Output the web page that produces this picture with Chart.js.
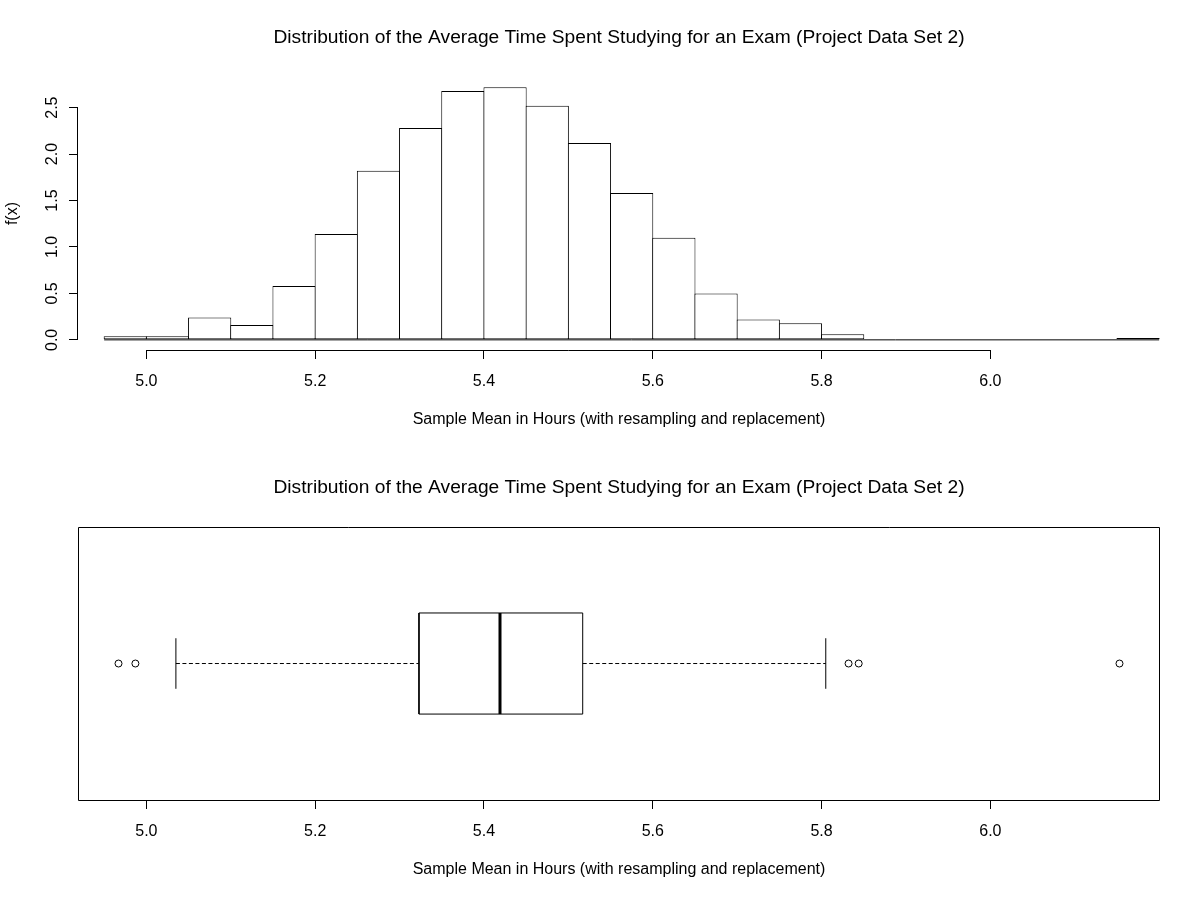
<!DOCTYPE html>
<html>
<head>
<meta charset="utf-8">
<script src="https://cdn.jsdelivr.net/npm/chart.js@4/dist/chart.umd.min.js"></script>
<style>
  html, body { margin: 0; padding: 0; background: #fff; }
  canvas { display: block; }
</style>
</head>
<body>
<canvas id="histChart" width="1198" height="450"></canvas>
<canvas id="boxChart" width="1198" height="450"></canvas>
<script>
// ═══════════════════════════════════════════════════════
//  Sample mean distribution — histogram + boxplot (R look)
// ═══════════════════════════════════════════════════════

// ─── Data ─────────────────────────────────────────────

const TITLE   = 'Distribution of the Average Time Spent Studying for an Exam (Project Data Set 2)';
const X_LABEL = 'Sample Mean in Hours (with resampling and replacement)';
const Y_LABEL = 'f(x)';

// histogram breaks (bin width 0.05) and density per bin
const BREAKS  = [4.95, 5.00, 5.05, 5.10, 5.15, 5.20, 5.25, 5.30, 5.35, 5.40, 5.45, 5.50, 5.55,
                 5.60, 5.65, 5.70, 5.75, 5.80, 5.85, 5.90, 5.95, 6.00, 6.05, 6.10, 6.15, 6.20];
const DENSITY = [0.04, 0.04, 0.24, 0.16, 0.58, 1.14, 1.82, 2.28, 2.68, 2.72, 2.52, 2.12,
                 1.58, 1.10, 0.50, 0.22, 0.18, 0.06, 0, 0, 0, 0, 0, 0, 0.02];

// boxplot five-number summary and outliers
const WHISKER_LO = 5.035;
const Q1         = 5.323;
const MEDIAN     = 5.419;
const Q3         = 5.517;
const WHISKER_HI = 5.805;
const OUTLIERS   = [4.967, 4.987, 5.832, 5.844, 6.153];

// axes
const X_TICKS  = [5.0, 5.2, 5.4, 5.6, 5.8, 6.0];
const Y_TICKS  = [0.0, 0.5, 1.0, 1.5, 2.0, 2.5];
const X_RANGE  = [4.919, 6.201];
const Y_RANGE  = [-0.109, 2.829];
const BOX_YRANGE = [0.46, 1.54];

// ─── Defaults ─────────────────────────────────────────

const FONT = "'Liberation Sans', Arial, Helvetica, sans-serif";
Chart.defaults.font.family = FONT;
Chart.defaults.color = '#000';
Chart.defaults.animation = false;

// ─── R-style axis lines / frame ───────────────────────

const rAxes = {
  id: 'rAxes',
  afterDraw(chart, args, opts) {
    const { ctx, chartArea: a, scales } = chart;
    ctx.save();
    ctx.strokeStyle = '#000';
    ctx.lineWidth = 1;
    ctx.beginPath();
    const yb = Math.round(a.bottom) + 0.5;
    ctx.moveTo(scales.x.getPixelForValue(X_TICKS[0]), yb);
    ctx.lineTo(scales.x.getPixelForValue(X_TICKS[X_TICKS.length - 1]), yb);
    if (opts.yAxis) {
      const xl = Math.round(a.left) - 0.5;
      ctx.moveTo(xl, scales.y.getPixelForValue(Y_TICKS[0]));
      ctx.lineTo(xl, scales.y.getPixelForValue(Y_TICKS[Y_TICKS.length - 1]));
    }
    if (opts.frame) {
      ctx.rect(Math.round(a.left) + 0.5, Math.round(a.top) + 0.5,
               Math.round(a.width) - 1, Math.round(a.height));
    }
    ctx.stroke();
    ctx.restore();
  }
};

// ─── Shared pieces ────────────────────────────────────

const titleOpts = {
  display: true,
  text: TITLE,
  fullSize: false,
  font: { size: 19.2, weight: 'normal' },
  padding: { top: 26.5, bottom: 27.5 },
};

function xScale() {
  return {
    type: 'linear',
    offset: false,
    min: X_RANGE[0],
    max: X_RANGE[1],
    afterBuildTicks: s => { s.ticks = X_TICKS.map(v => ({ value: v })); },
    afterFit: s => { s.height = 100; },
    grid: { offset: false, drawOnChartArea: false, drawTicks: true, tickLength: 9, color: '#000', lineWidth: 1 },
    border: { display: false },
    ticks: { font: { size: 16 }, padding: 13.4, maxRotation: 0, callback: v => v.toFixed(1) },
    title: { display: true, text: X_LABEL, font: { size: 16 }, padding: { top: 0, bottom: 20.4 } },
  };
}

// ─── Histogram ────────────────────────────────────────

const binData = DENSITY.map((d, i) => ({ x: (BREAKS[i] + BREAKS[i + 1]) / 2, y: d }));

new Chart(document.getElementById('histChart'), {
  type: 'bar',
  data: {
    datasets: [
      {
        type: 'bar',
        data: binData,
        backgroundColor: '#fff',
        borderColor: '#000',
        borderWidth: 1,
        borderSkipped: false,
        inflateAmount: 0,
        barPercentage: 1.024,
        categoryPercentage: 1,
      },
      {
        type: 'line',
        data: [{ x: BREAKS[0], y: 0 }, { x: BREAKS[BREAKS.length - 1], y: 0 }],
        borderColor: '#000',
        borderWidth: 1,
        pointRadius: 0,
        tension: 0,
      },
    ],
  },
  options: {
    responsive: false,
    events: [],
    layout: { padding: { left: 0, right: 38, top: 0, bottom: 0 } },
    scales: {
      x: xScale(),
      y: {
        type: 'linear',
        min: Y_RANGE[0],
        max: Y_RANGE[1],
        afterBuildTicks: s => { s.ticks = Y_TICKS.map(v => ({ value: v })); },
        afterFit: s => { s.width = 78; },
        grid: { drawOnChartArea: false, drawTicks: true, tickLength: 9, color: '#000', lineWidth: 1 },
        border: { display: false },
        ticks: { font: { size: 16 }, padding: 5, minRotation: 90, maxRotation: 90,
                 crossAlign: 'center', callback: v => v.toFixed(1) },
        title: { display: true, text: Y_LABEL, font: { size: 16 }, padding: { top: 3.4, bottom: 0 } },
      },
    },
    plugins: {
      legend: { display: false },
      tooltip: { enabled: false },
      title: titleOpts,
      rAxes: { yAxis: true, frame: false },
    },
  },
  plugins: [rAxes],
});

// ─── Boxplot ──────────────────────────────────────────

const BOX_MID = 1, BOX_HALF = 0.2, CAP_HALF = 0.1;
const seg = (x0, y0, x1, y1) => [{ x: x0, y: y0 }, { x: x1, y: y1 }];
const lineDs = (data, extra) => Object.assign({
  type: 'line', data, borderColor: '#000', borderWidth: 1, pointRadius: 0,
  tension: 0, fill: false, borderCapStyle: 'butt',
}, extra || {});

new Chart(document.getElementById('boxChart'), {
  type: 'line',
  data: {
    datasets: [
      lineDs(seg(WHISKER_LO, BOX_MID, Q1, BOX_MID), { borderDash: [4, 2.5] }),
      lineDs(seg(Q3, BOX_MID, WHISKER_HI, BOX_MID), { borderDash: [4, 2.5] }),
      lineDs(seg(WHISKER_LO, BOX_MID - CAP_HALF, WHISKER_LO, BOX_MID + CAP_HALF)),
      lineDs(seg(WHISKER_HI, BOX_MID - CAP_HALF, WHISKER_HI, BOX_MID + CAP_HALF)),
      lineDs([
        { x: Q1, y: BOX_MID - BOX_HALF }, { x: Q3, y: BOX_MID - BOX_HALF },
        { x: Q3, y: BOX_MID + BOX_HALF }, { x: Q1, y: BOX_MID + BOX_HALF },
        { x: Q1, y: BOX_MID - BOX_HALF },
      ]),
      lineDs(seg(MEDIAN, BOX_MID - BOX_HALF, MEDIAN, BOX_MID + BOX_HALF), { borderWidth: 3 }),
      {
        type: 'scatter',
        data: OUTLIERS.map(v => ({ x: v, y: BOX_MID })),
        pointStyle: 'circle',
        pointRadius: 3.5,
        pointBorderWidth: 1,
        pointBorderColor: '#000',
        pointBackgroundColor: 'rgba(255,255,255,0)',
        showLine: false,
      },
    ],
  },
  options: {
    responsive: false,
    events: [],
    layout: { padding: { left: 78, right: 38, top: 0, bottom: 0 } },
    scales: {
      x: xScale(),
      y: { type: 'linear', display: false, min: BOX_YRANGE[0], max: BOX_YRANGE[1] },
    },
    plugins: {
      legend: { display: false },
      tooltip: { enabled: false },
      title: titleOpts,
      rAxes: { yAxis: false, frame: true },
    },
  },
  plugins: [rAxes],
});
</script>
</body>
</html>
